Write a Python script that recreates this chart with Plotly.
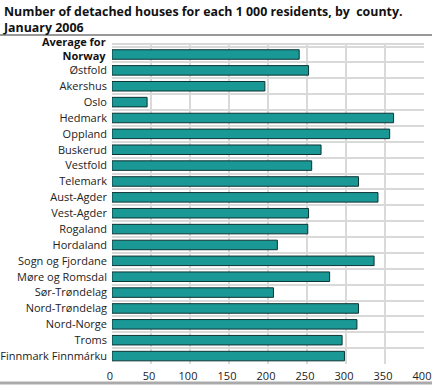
import plotly.graph_objects as go

counties = ["Average for Norway", "Østfold", "Akershus", "Oslo", "Hedmark", "Oppland",
            "Buskerud", "Vestfold", "Telemark", "Aust-Agder", "Vest-Agder", "Rogaland",
            "Hordaland", "Sogn og Fjordane", "Møre og Romsdal", "Sør-Trøndelag",
            "Nord-Trøndelag", "Nord-Norge", "Troms", "Finnmark Finnmárku"]
houses = [240, 252, 196, 45, 361, 356, 268, 256, 316, 341, 252, 251, 212, 336, 279,
          207, 316, 314, 295, 298]
x_ticks = [0, 50, 100, 150, 200, 250, 300, 350, 400]

L, R, T, B = 112, 8, 44, 23
PW, PH = 432 - L - R, 387 - T - B

fig = go.Figure(go.Bar(
    x=houses, y=counties, orientation="h", width=0.6,
    marker=dict(color="#1a9896", line=dict(color="#0c3332", width=1)),
))

fig.update_layout(
    width=432, height=387,
    margin=dict(l=L, r=R, t=T, b=B, autoexpand=False),
    paper_bgcolor="white", plot_bgcolor="white",
    font=dict(family="Open Sans", size=11, color="#222"),
    showlegend=False,
)

fig.add_annotation(
    text="<b>Number of detached houses for each 1 000 residents, by  county.<br>January 2006</b>",
    xref="paper", yref="paper", x=-(L - 1) / PW, y=1 + (T - 1) / PH,
    xanchor="left", yanchor="top", align="left", showarrow=False,
    font=dict(size=12.4, color="#111", family="Open Sans"),
)

# first category label drawn as a two-line bold annotation, raised like the original
avg_label = counties[0].replace(" for ", " for<br>")
fig.add_annotation(
    text=f"<b>{avg_label}</b>", xref="paper", yref="y", x=-4 / PW, y=counties[0],
    xanchor="right", yanchor="middle", align="right", showarrow=False, yshift=6,
    font=dict(size=11, color="#111", family="Open Sans"),
)

fig.update_xaxes(range=[0, 400], tickvals=x_ticks, showgrid=True,
                 gridcolor="#d9d9d9", gridwidth=2, zeroline=False, showline=False, ticks="",
                 automargin=False, tickfont=dict(size=11, color="#222"), ticklabelstandoff=4,
                 ticklabelshift=-2, ticklabeloverflow="allow", fixedrange=True)
fig.update_yaxes(autorange="reversed", tickson="boundaries", showgrid=True, automargin=False,
                 gridcolor="#d9d9d9", gridwidth=2, ticks="", showline=False,
                 tickvals=counties, ticktext=[""] + counties[1:],
                 tickfont=dict(size=11, color="#222"), ticklabelstandoff=4, fixedrange=True)

fig.add_shape(type="line", xref="paper", yref="paper", x0=-L / PW, x1=1 + R / PW,
              y0=1 + 9 / PH, y1=1 + 9 / PH, line=dict(color="#999", width=2))
fig.add_shape(type="line", xref="paper", yref="paper", x0=-L / PW, x1=1 + R / PW,
              y0=-19 / PH, y1=-19 / PH, line=dict(color="#aaa", width=3))
fig.add_shape(type="line", xref="paper", yref="paper", x0=0, x1=1, y0=1, y1=1,
              line=dict(color="#d9d9d9", width=2))

fig.write_html("out.html", config={"displayModeBar": False},
               post_script="document.body.style.margin='0';")
